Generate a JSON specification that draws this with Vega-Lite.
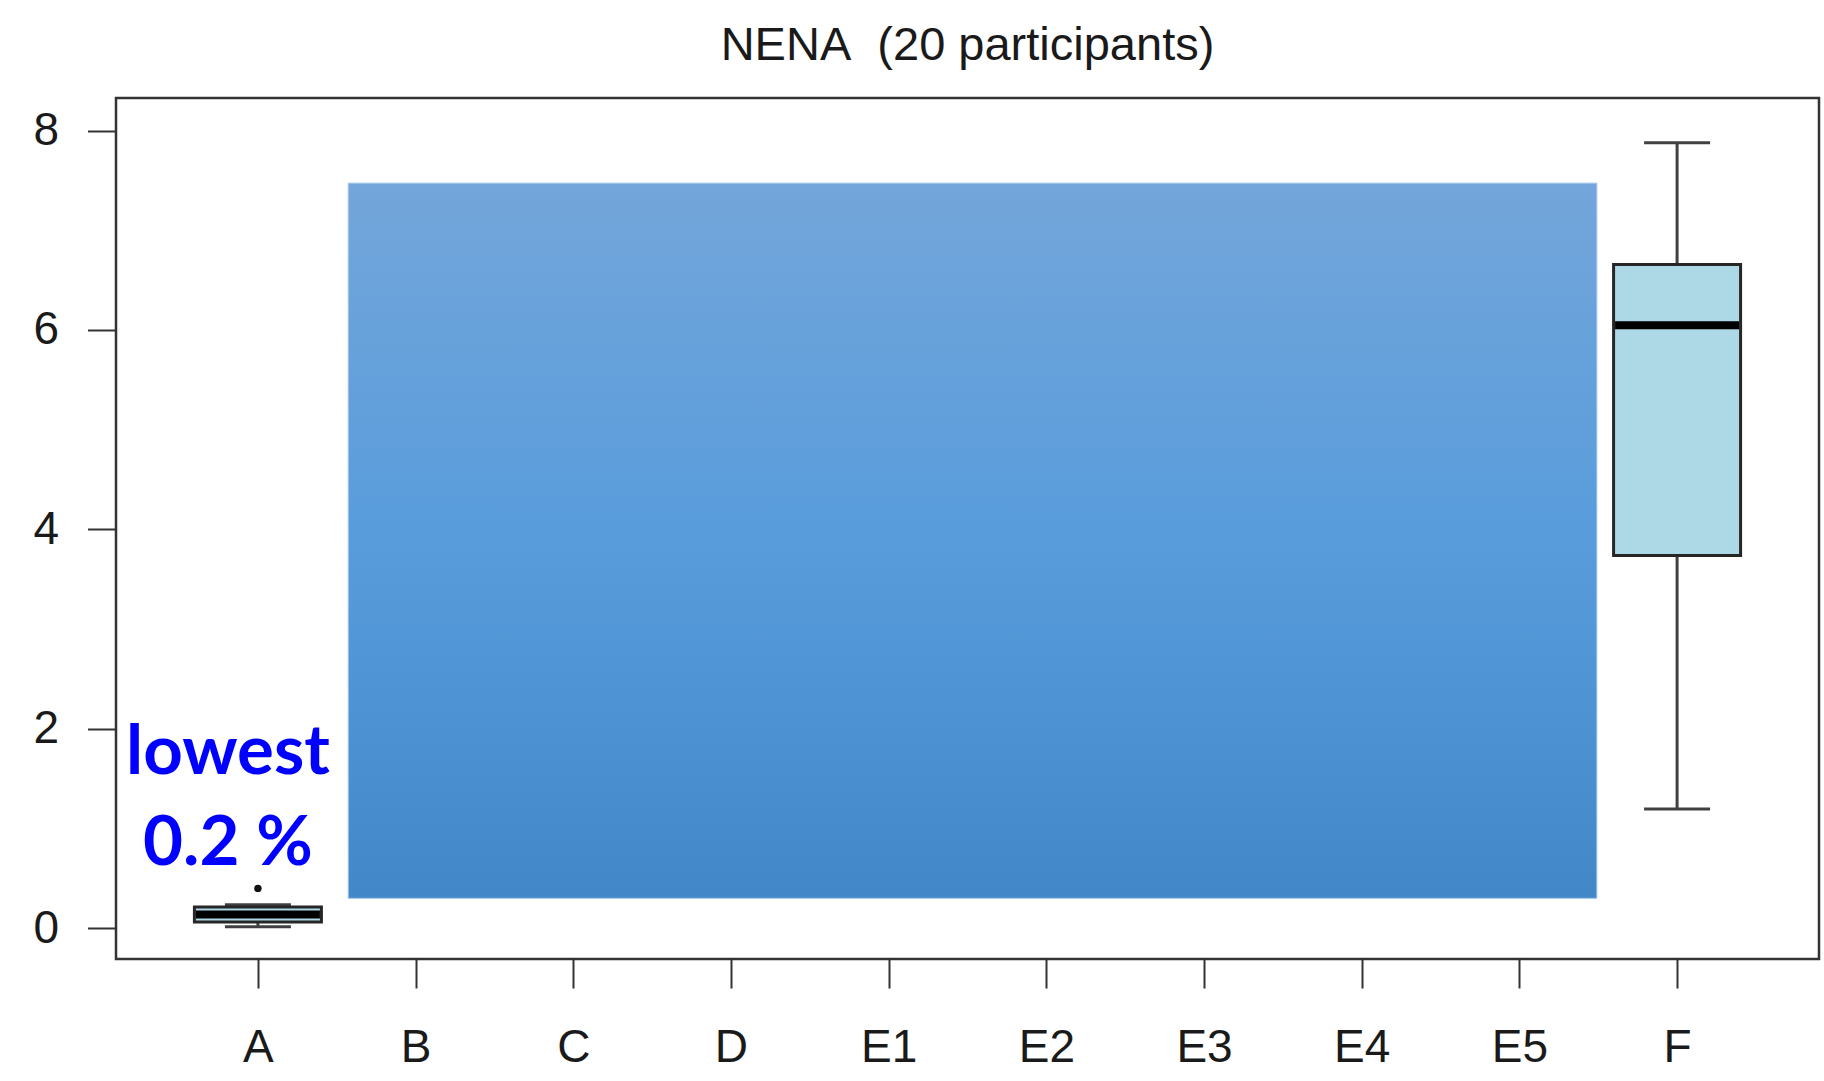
{
  "$schema": "https://vega.github.io/schema/vega-lite/v6.json",
  "autosize": {"type": "none"},
  "width": 1703,
  "height": 861,
  "padding": {"left": 116, "top": 98, "right": 5, "bottom": 122},
  "background": "white",
  "title": {
    "text": "NENA\u00a0\u00a0(20 participants)",
    "font": "Liberation Sans",
    "fontSize": 47,
    "fontWeight": "normal",
    "color": "#1a1a1a",
    "baseline": "alphabetic",
    "offset": -9,
    "anchor": "middle"
  },
  "datasets": {
    "overlay": [{"x": 1.573, "x2": 9.491, "y": 0.301, "y2": 7.472}],
    "boxes": [
      {"group": "A", "x": 1, "lower": 0.016, "q1": 0.063, "median": 0.138, "q3": 0.214, "upper": 0.237},
      {"group": "F", "x": 10, "lower": 1.196, "q1": 3.738, "median": 6.046, "q3": 6.657, "upper": 7.877}
    ],
    "outliers": [{"group": "A", "x": 1, "value": 0.40}],
    "notes": [
      {"text": "lowest", "x": 0.81, "y": 1.546},
      {"text": "0.2 %", "x": 0.81, "y": 0.634}
    ]
  },
  "layer": [
    {
      "data": {"name": "overlay"},
      "mark": {
        "type": "rect",
        "fill": {
          "gradient": "linear",
          "x1": 0, "y1": 0, "x2": 0, "y2": 1,
          "stops": [
            {"offset": 0, "color": "#73A6DA"},
            {"offset": 0.5, "color": "#589CDC"},
            {"offset": 1, "color": "#4288C8"}
          ]
        },
        "stroke": "#9CC2EA",
        "strokeWidth": 1
      },
      "encoding": {
        "x": {
          "field": "x", "type": "quantitative", "title": null,
          "scale": {"domain": [0.1, 10.9], "nice": false, "zero": false, "padding": 0},
          "axis": {
            "values": [1, 2, 3, 4, 5, 6, 7, 8, 9, 10],
            "labelExpr": "['A','B','C','D','E1','E2','E3','E4','E5','F'][datum.value - 1]",
            "labelPadding": 37,
            "tickSize": 29,
            "labelFontSize": 46,
            "title": null
          }
        },
        "x2": {"field": "x2"},
        "y": {
          "field": "y", "type": "quantitative", "title": null,
          "scale": {"domain": [-0.308, 8.326], "nice": false, "zero": false, "padding": 0},
          "axis": {
            "values": [0, 2, 4, 6, 8],
            "format": "d",
            "labelPadding": 29,
            "tickSize": 28.5,
            "labelFontSize": 46,
            "title": null
          }
        },
        "y2": {"field": "y2"}
      }
    },
    {
      "data": {"name": "boxes"},
      "mark": {"type": "rule", "color": "#404040", "strokeWidth": 3},
      "encoding": {
        "x": {"field": "x", "type": "quantitative", "title": null},
        "y": {"field": "lower", "type": "quantitative", "title": null},
        "y2": {"field": "upper"}
      }
    },
    {
      "data": {"name": "boxes"},
      "mark": {"type": "tick", "orient": "horizontal", "size": 66, "thickness": 3, "color": "#404040", "opacity": 1},
      "encoding": {
        "x": {"field": "x", "type": "quantitative", "title": null},
        "y": {"field": "lower", "type": "quantitative", "title": null}
      }
    },
    {
      "data": {"name": "boxes"},
      "mark": {"type": "tick", "orient": "horizontal", "size": 66, "thickness": 3, "color": "#404040", "opacity": 1},
      "encoding": {
        "x": {"field": "x", "type": "quantitative", "title": null},
        "y": {"field": "upper", "type": "quantitative", "title": null}
      }
    },
    {
      "data": {"name": "boxes"},
      "mark": {"type": "bar", "size": 127, "fill": "#ADD8E6", "stroke": "#262626", "strokeWidth": 3, "opacity": 1},
      "encoding": {
        "x": {"field": "x", "type": "quantitative", "title": null},
        "y": {"field": "q1", "type": "quantitative", "title": null},
        "y2": {"field": "q3"}
      }
    },
    {
      "data": {"name": "boxes"},
      "mark": {"type": "tick", "orient": "horizontal", "size": 124, "thickness": 8, "color": "#000000", "opacity": 1},
      "encoding": {
        "x": {"field": "x", "type": "quantitative", "title": null},
        "y": {"field": "median", "type": "quantitative", "title": null}
      }
    },
    {
      "data": {"name": "outliers"},
      "mark": {"type": "point", "shape": "circle", "size": 55, "filled": true, "color": "#111111", "opacity": 1},
      "encoding": {
        "x": {"field": "x", "type": "quantitative", "title": null},
        "y": {"field": "value", "type": "quantitative", "title": null}
      }
    },
    {
      "data": {"name": "notes"},
      "mark": {"type": "text", "font": "Lato", "fontWeight": "bold", "fontSize": 69, "color": "#0000FF", "align": "center", "baseline": "alphabetic"},
      "encoding": {
        "x": {"field": "x", "type": "quantitative", "title": null},
        "y": {"field": "y", "type": "quantitative", "title": null},
        "text": {"field": "text"}
      }
    }
  ],
  "config": {
    "view": {"stroke": "#333333", "strokeWidth": 2.5},
    "axis": {
      "domain": false,
      "grid": false,
      "tickColor": "#333333",
      "tickWidth": 2,
      "labelFont": "Liberation Sans",
      "labelColor": "#1a1a1a",
      "labelFontSize": 46
    }
  }
}
